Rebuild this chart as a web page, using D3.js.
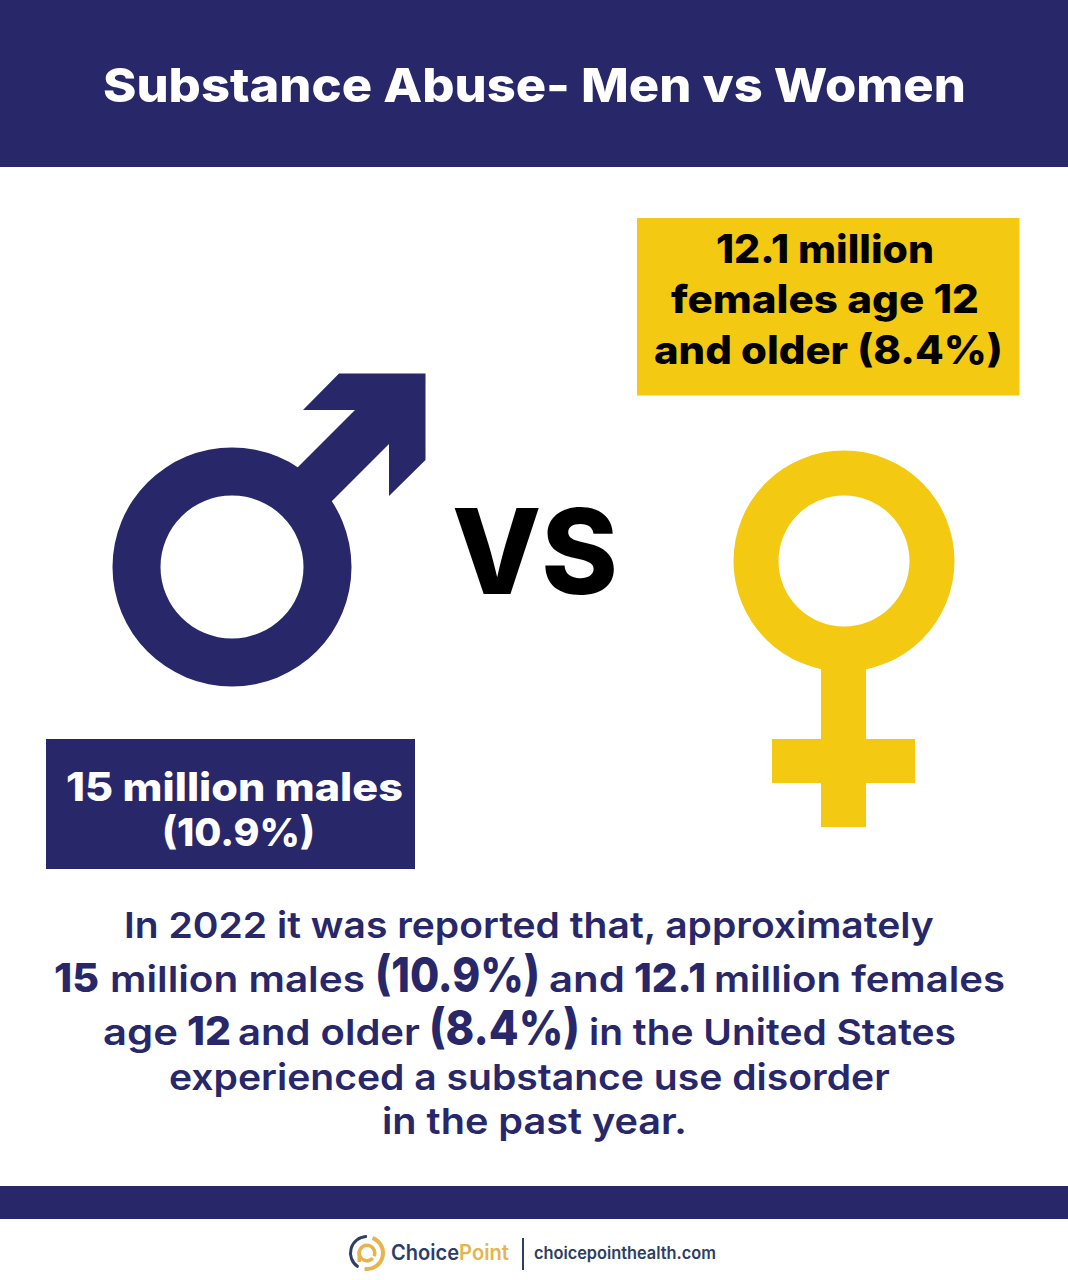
<!DOCTYPE html>
<html>
<head>
<meta charset="utf-8">
<script src="https://cdn.jsdelivr.net/npm/d3@7"></script>
<style>
  html, body { margin: 0; padding: 0; background: #fff; }
  svg { display: block; }
  text { font-family: Inter, "Noto Sans", sans-serif; }
</style>
</head>
<body>
<svg id="chart" width="1068" height="1280"></svg>
<script>
// values
const groups = ["males", "females"]
const millions = [15, 12.1]
const percents = [10.9, 8.4]
const ages = 12
const year = 2022

const navy = "#27276a"
const yellow = "#f3c911"
const logoBlue = "#2c3e63"
const logoGold = "#e6b44c"

const svg = d3.select("#chart")

function rect(x0, y0, x1, y1, fill) {
  svg.append("rect").attr("x", x0).attr("y", y0)
    .attr("width", x1 - x0).attr("height", y1 - y0).attr("fill", fill)
}

// text stretched to the width it has in the picture
function label(str, x0, x1, y, size, weight, fill) {
  const t = svg.append("text")
    .attr("font-size", size)
    .attr("font-weight", weight)
    .attr("fill", fill)
    .text(str)
  const sx = (x1 - x0) / t.node().getComputedTextLength()
  t.attr("transform", `translate(${x0},${y}) scale(${sx},1)`)
}

function ring(cx, cy, outer, inner, fill) {
  const arc = d3.arc().innerRadius(inner).outerRadius(outer).startAngle(0).endAngle(2 * Math.PI)
  svg.append("path").attr("transform", `translate(${cx},${cy})`).attr("d", arc()).attr("fill", fill)
}

// bands
rect(0, 0, 1068, 167, navy)
rect(0, 1186, 1068, 1219, navy)
label("Substance Abuse- Men vs Women", 103, 966, 102, 47, 800, "#fff")

// male symbol
const arrow = d3.path()
arrow.moveTo(339, 373.5)
arrow.lineTo(425.5, 373.5)
arrow.lineTo(425.5, 460)
arrow.lineTo(389, 496)
arrow.lineTo(389, 444)
arrow.lineTo(330, 503)
arrow.lineTo(296, 469)
arrow.lineTo(355, 410)
arrow.lineTo(303, 410)
arrow.closePath()
svg.append("path").attr("d", arrow.toString()).attr("fill", navy)
ring(232, 567, 119.5, 71.5, navy)

// female symbol
rect(821, 650, 866, 827, yellow)
rect(772, 739, 915, 783, yellow)
ring(844, 561, 110.5, 65.5, yellow)

label("VS", 452, 618, 594, 118, 800, "#000")

// callouts
rect(637, 218, 1019.5, 395.5, yellow)
label(`${millions[1]} million`, 716, 934, 263, 39, 800, "#000")
label(`${groups[1]} age ${ages}`, 671, 979, 313, 39, 800, "#000")
label(`and older (${percents[1]}%)`, 654, 1003, 364, 39, 800, "#000")

rect(46, 739, 415, 869, navy)
label(`${millions[0]} million ${groups[0]}`, 66, 403, 801, 39, 800, "#fff")
label(`(${percents[0]}%)`, 162, 315, 846, 39, 800, "#fff")

// paragraph
label(`In ${year} it was reported that, approximately`, 124, 934, 938, 36, 600, navy)

label(`${millions[0]}`, 54, 99, 992, 40, 800, navy)
label(`million ${groups[0]}`, 110, 365, 992, 36, 600, navy)
label(`(${percents[0]}%)`, 375, 540, 992, 48, 800, navy)
label("and", 549, 625, 992, 36, 600, navy)
label(`${millions[1]}`, 634, 706, 992, 40, 800, navy)
label(`million ${groups[1]}`, 714, 1005, 992, 36, 600, navy)

label("age", 103, 178, 1045, 36, 600, navy)
label(`${ages}`, 187, 231, 1045, 40, 800, navy)
label("and older", 238, 420, 1045, 36, 600, navy)
label(`(${percents[1]}%)`, 429, 580, 1045, 48, 800, navy)
label("in the United States", 589, 956, 1045, 36, 600, navy)

label("experienced a substance use disorder", 169, 890, 1090, 36, 600, navy)
label("in the past year.", 382, 687, 1134, 36, 600, navy)

// logo
const logoX = 367, logoY = 1253
const logoArc = d3.arc().cornerRadius(1)
function logoPart(inner, outer, a0, a1, fill) {
  svg.append("path").attr("transform", `translate(${logoX},${logoY})`)
    .attr("d", logoArc({ innerRadius: inner, outerRadius: outer, startAngle: a0, endAngle: a1 })).attr("fill", fill)
}
logoPart(15, 18, -2.6, 0, logoBlue)
logoPart(14, 18, 0.35, 3.3, logoGold)
logoPart(6, 9.5, -4, 2, logoGold)
rect(logoX - 9.5, logoY - 2, logoX - 6, logoY + 9, logoGold)

label("Choice", 391, 459, 1260, 21, 600, logoBlue)
label("Point", 459, 509, 1260, 21, 600, logoGold)
rect(522, 1238, 524, 1270, logoBlue)
label("choicepointhealth.com", 534, 716, 1259, 17, 600, logoBlue)
</script>
</body>
</html>
